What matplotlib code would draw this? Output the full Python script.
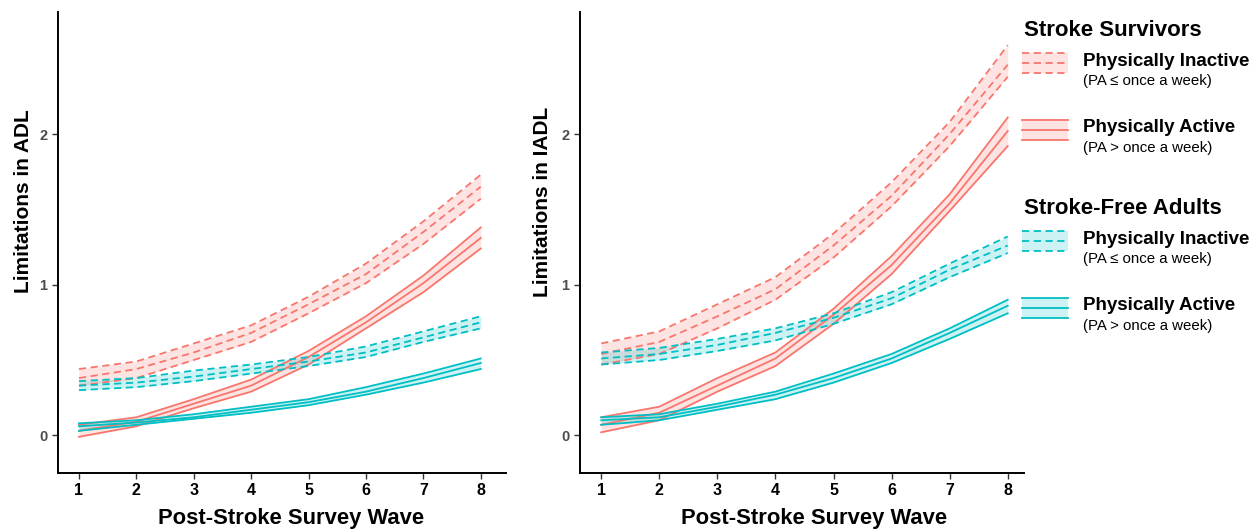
import matplotlib
matplotlib.use("Agg")
import matplotlib.pyplot as plt
from matplotlib.patches import Rectangle

plt.rcParams['font.family'] = ['Liberation Sans', 'DejaVu Sans']

waves = [1, 2, 3, 4, 5, 6, 7, 8]

# ADL panel: (lower, center, upper)
adl_ss_inactive_lo = [0.33, 0.38, 0.50, 0.62, 0.81, 1.01, 1.27, 1.57]
adl_ss_inactive    = [0.38, 0.44, 0.55, 0.68, 0.87, 1.07, 1.35, 1.65]
adl_ss_inactive_hi = [0.44, 0.49, 0.61, 0.73, 0.92, 1.14, 1.42, 1.73]
adl_ss_active_lo = [-0.01, 0.06, 0.18, 0.29, 0.47, 0.71, 0.95, 1.24]
adl_ss_active    = [0.03, 0.09, 0.21, 0.33, 0.52, 0.75, 1.01, 1.31]
adl_ss_active_hi = [0.07, 0.12, 0.24, 0.37, 0.56, 0.79, 1.06, 1.38]
adl_sf_inactive_lo = [0.30, 0.32, 0.36, 0.41, 0.46, 0.52, 0.62, 0.71]
adl_sf_inactive    = [0.33, 0.35, 0.39, 0.44, 0.49, 0.55, 0.65, 0.75]
adl_sf_inactive_hi = [0.36, 0.38, 0.43, 0.47, 0.52, 0.59, 0.69, 0.79]
adl_sf_active_lo = [0.03, 0.07, 0.11, 0.15, 0.20, 0.27, 0.35, 0.44]
adl_sf_active    = [0.06, 0.085, 0.12, 0.17, 0.22, 0.29, 0.38, 0.48]
adl_sf_active_hi = [0.08, 0.10, 0.14, 0.19, 0.24, 0.32, 0.41, 0.51]

# IADL panel
iadl_ss_inactive_lo = [0.47, 0.54, 0.71, 0.90, 1.18, 1.52, 1.92, 2.38]
iadl_ss_inactive    = [0.54, 0.62, 0.79, 0.97, 1.26, 1.59, 2.00, 2.46]
iadl_ss_inactive_hi = [0.61, 0.69, 0.87, 1.05, 1.34, 1.68, 2.08, 2.59]
iadl_ss_active_lo = [0.02, 0.10, 0.29, 0.46, 0.74, 1.07, 1.49, 1.92]
iadl_ss_active    = [0.07, 0.15, 0.33, 0.51, 0.80, 1.13, 1.54, 2.02]
iadl_ss_active_hi = [0.12, 0.19, 0.38, 0.55, 0.84, 1.19, 1.60, 2.11]
iadl_sf_inactive_lo = [0.47, 0.50, 0.56, 0.63, 0.74, 0.87, 1.05, 1.21]
iadl_sf_inactive    = [0.51, 0.54, 0.60, 0.68, 0.78, 0.91, 1.10, 1.26]
iadl_sf_inactive_hi = [0.55, 0.58, 0.64, 0.71, 0.81, 0.95, 1.14, 1.32]
iadl_sf_active_lo = [0.07, 0.10, 0.17, 0.24, 0.35, 0.48, 0.64, 0.81]
iadl_sf_active    = [0.10, 0.12, 0.19, 0.27, 0.38, 0.51, 0.68, 0.86]
iadl_sf_active_hi = [0.12, 0.14, 0.21, 0.29, 0.41, 0.54, 0.71, 0.90]

y_ticks = [0, 1, 2]
RED = '#F8766D'
CYAN = '#00BFC4'
DASH = (0, (4, 2.5))

fig = plt.figure(figsize=(12.57, 5.29), dpi=100)
W, H = 1257, 529

def px_axes(x0, y0, x1, y1):
    return fig.add_axes([x0 / W, 1 - y1 / H, (x1 - x0) / W, (y1 - y0) / H])

ax1 = px_axes(58, 12, 506, 473)
ax2 = px_axes(580, 12, 1024, 473)

def panel(ax, d, ylabel, xmax, ylab_xy, xlab_xy):
    for lo, mid, hi, c, dashed in d:
        ax.fill_between(waves, lo, hi, color=c, alpha=0.2, lw=0)
        for s in (lo, mid, hi):
            ax.plot(waves, s, color=c, lw=1.3, ls=DASH if dashed else '-')
    ax.set_xlim(0.635, xmax)
    ax.set_ylim(-0.25, 2.81)
    ax.set_xticks(waves)
    ax.set_yticks(y_ticks)
    ax.set_yticklabels([str(t) for t in y_ticks], fontweight='bold', color='#4D4D4D', fontsize=10.5)
    ax.set_xticklabels([str(w) for w in waves], fontweight='bold', color='black', fontsize=11.5)
    for s in ('top', 'right'):
        ax.spines[s].set_visible(False)
    for s in ('left', 'bottom'):
        ax.spines[s].set_linewidth(1.4)
    ax.tick_params(direction='out', length=4, width=1, color='#333333')
    ax.set_ylabel(ylabel, fontsize=15, fontweight='bold')
    ax.set_xlabel('Post-Stroke Survey Wave', fontsize=15.8, fontweight='bold')
    ax.yaxis.set_label_coords(*ylab_xy)
    ax.xaxis.set_label_coords(*xlab_xy)

panel(ax1, [
    (adl_ss_inactive_lo, adl_ss_inactive, adl_ss_inactive_hi, RED, True),
    (adl_ss_active_lo, adl_ss_active, adl_ss_active_hi, RED, False),
    (adl_sf_inactive_lo, adl_sf_inactive, adl_sf_inactive_hi, CYAN, True),
    (adl_sf_active_lo, adl_sf_active, adl_sf_active_hi, CYAN, False),
], 'Limitations in ADL', 8.44, (-0.056, 0.59), (0.52, -0.076))

panel(ax2, [
    (iadl_ss_inactive_lo, iadl_ss_inactive, iadl_ss_inactive_hi, RED, True),
    (iadl_ss_active_lo, iadl_ss_active, iadl_ss_active_hi, RED, False),
    (iadl_sf_inactive_lo, iadl_sf_inactive, iadl_sf_inactive_hi, CYAN, True),
    (iadl_sf_active_lo, iadl_sf_active, iadl_sf_active_hi, CYAN, False),
], 'Limitations in IADL', 8.28, (-0.063, 0.588), (0.527, -0.076))

# Legend drawn in pixel coordinates
lg = fig.add_axes([0, 0, 1, 1])
lg.set_xlim(0, W)
lg.set_ylim(H, 0)
lg.axis('off')

def key(y0, color, dashed):
    x0, x1 = 1022, 1068
    lg.add_patch(Rectangle((x0, y0), x1 - x0, 20, facecolor=color, alpha=0.2, lw=0))
    for yy in (y0, y0 + 10, y0 + 20):
        lg.plot([x0, x1], [yy, yy], color=color, lw=1.3, ls=DASH if dashed else '-')

groups = [
    ('Stroke Survivors', 30, RED),
    ('Stroke-Free Adults', 208, CYAN),
]
entries = [
    ('Physically Inactive', '(PA \u2264 once a week)', True),
    ('Physically Active', '(PA > once a week)', False),
]
for title, ty, col in groups:
    lg.text(1024, ty, title, fontsize=16, fontweight='bold', va='center', ha='left')
    for i, (lab, sub, dashed) in enumerate(entries):
        ky = ty + 23 + i * 67
        key(ky, col, dashed)
        lg.text(1083, ky + 8, lab, fontsize=13.5, fontweight='bold', va='center', ha='left')
        lg.text(1083, ky + 28, sub, fontsize=10.8, va='center', ha='left')

fig.savefig('out.png', dpi=100)
